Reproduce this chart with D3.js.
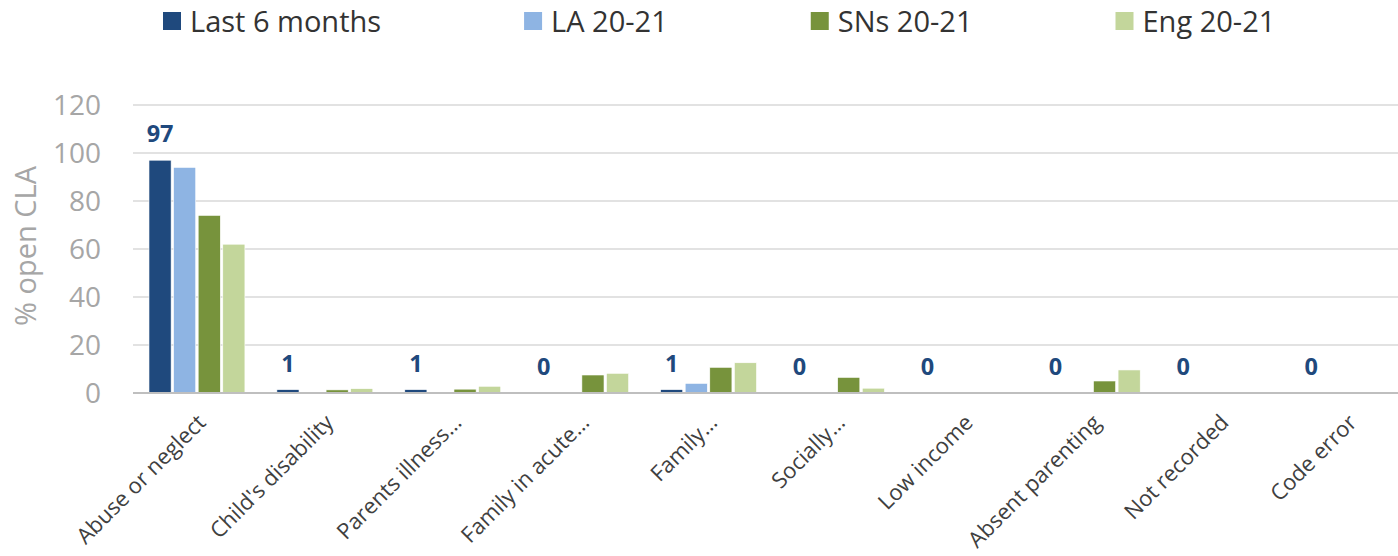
<!DOCTYPE html>
<html>
<head>
<meta charset="utf-8">
<script src="https://cdn.jsdelivr.net/npm/d3@7"></script>
<style>
  body { margin: 0; background: #fff; }
  svg { display: block; font-family: "Open Sans", sans-serif; }
</style>
</head>
<body>
<script>
// Chart data
var categories = ["Abuse or neglect", "Child's disability", "Parents illness…", "Family in acute…",
    "Family…", "Socially…", "Low income", "Absent parenting", "Not recorded", "Code error"];
var seriesNames = ["Last 6 months", "LA 20-21", "SNs 20-21", "Eng 20-21"];
var last6Months = [97, 1.4, 1.4, 0, 1.4, 0, 0, 0, 0, 0];
var la2021 = [94, 0, 0, 0, 4, 0, 0, 0, 0, 0];
var sns2021 = [74, 1.3, 1.6, 7.5, 10.7, 6.5, 0, 5, 0, 0];
var eng2021 = [62, 1.8, 2.8, 8.2, 12.6, 2, 0, 9.6, 0, 0];
var yTicks = [0, 20, 40, 60, 80, 100, 120];

var seriesValues = [last6Months, la2021, sns2021, eng2021];
var colors = ["#1f497d", "#8eb4e3", "#77933c", "#c3d69b"];

var width = 1398, height = 556;

var svg = d3.select("body").append("svg")
    .attr("width", width)
    .attr("height", height);

// Scales
var x0 = d3.scaleBand()
    .domain(categories)
    .range([133, 1412])
    .paddingInner(0.25)
    .paddingOuter(0.125);

var x1 = d3.scaleBand()
    .domain(seriesNames)
    .range([0, x0.bandwidth()])
    .paddingInner(0.1);

var y = d3.scaleLinear()
    .domain([0, 120])
    .range([393, 105]);

// Gridlines
svg.append("g")
    .selectAll("line")
    .data(yTicks.filter(function(d) { return d > 0; }))
    .enter().append("line")
    .attr("x1", 133)
    .attr("x2", width)
    .attr("y1", function(d) { return y(d); })
    .attr("y2", function(d) { return y(d); })
    .attr("stroke", "#d9d9d9")
    .attr("stroke-width", 1.5);

// Y axis tick labels
svg.append("g")
    .selectAll("text")
    .data(yTicks)
    .enter().append("text")
    .attr("x", 101)
    .attr("y", function(d) { return y(d); })
    .attr("dy", "0.36em")
    .attr("text-anchor", "end")
    .attr("fill", "#a6a6a6")
    .style("font-size", "28px")
    .text(function(d) { return d; });

// Y axis title
svg.append("text")
    .attr("transform", "translate(36,246) rotate(-90)")
    .attr("text-anchor", "middle")
    .attr("fill", "#a6a6a6")
    .style("font-size", "29px")
    .text("% open CLA");

// Bars
var groups = svg.append("g")
    .selectAll("g")
    .data(categories)
    .enter().append("g")
    .attr("transform", function(d) { return "translate(" + x0(d) + ",0)"; });

groups.selectAll("rect")
    .data(function(d, i) {
        return seriesNames.map(function(s, j) { return { series: s, value: seriesValues[j][i], idx: j }; });
    })
    .enter().append("rect")
    .attr("x", function(d) { return x1(d.series); })
    .attr("y", function(d) { return y(d.value); })
    .attr("width", x1.bandwidth())
    .attr("height", function(d) { return y(0) - y(d.value); })
    .attr("fill", function(d) { return colors[d.idx]; })
    .attr("stroke", "#fff")
    .attr("stroke-width", 0.6);

// Baseline
svg.append("line")
    .attr("x1", 133)
    .attr("x2", width)
    .attr("y1", y(0))
    .attr("y2", y(0))
    .attr("stroke", "#bfbfbf")
    .attr("stroke-width", 2);

// Data labels for the first series
groups.append("text")
    .attr("x", x1(seriesNames[0]) + x1.bandwidth() / 2)
    .attr("y", function(d, i) { return y(last6Months[i]) - 18; })
    .attr("text-anchor", "middle")
    .attr("fill", "#1f497d")
    .style("font-size", "23.5px")
    .style("font-weight", "bold")
    .text(function(d, i) { return Math.round(last6Months[i]); });

// Category labels
svg.append("g")
    .selectAll("text")
    .data(categories)
    .enter().append("text")
    .attr("transform", function(d) {
        return "translate(" + (x0(d) + x0.bandwidth() / 2 + 10) + ",424) rotate(-45)";
    })
    .attr("text-anchor", "end")
    .attr("fill", "#404040")
    .style("font-size", "22px")
    .text(function(d) { return d; });

// Legend
var legend = svg.append("g");
var lx = 163;
seriesNames.forEach(function(name, i) {
    legend.append("rect")
        .attr("x", lx)
        .attr("y", 12)
        .attr("width", 18)
        .attr("height", 18)
        .attr("fill", colors[i]);
    var t = legend.append("text")
        .attr("x", lx + 27)
        .attr("y", 32)
        .attr("fill", "#333333")
        .style("font-size", "29px")
        .text(name);
    lx = lx + 27 + t.node().getComputedTextLength() + 143;
});
</script>
</body>
</html>
